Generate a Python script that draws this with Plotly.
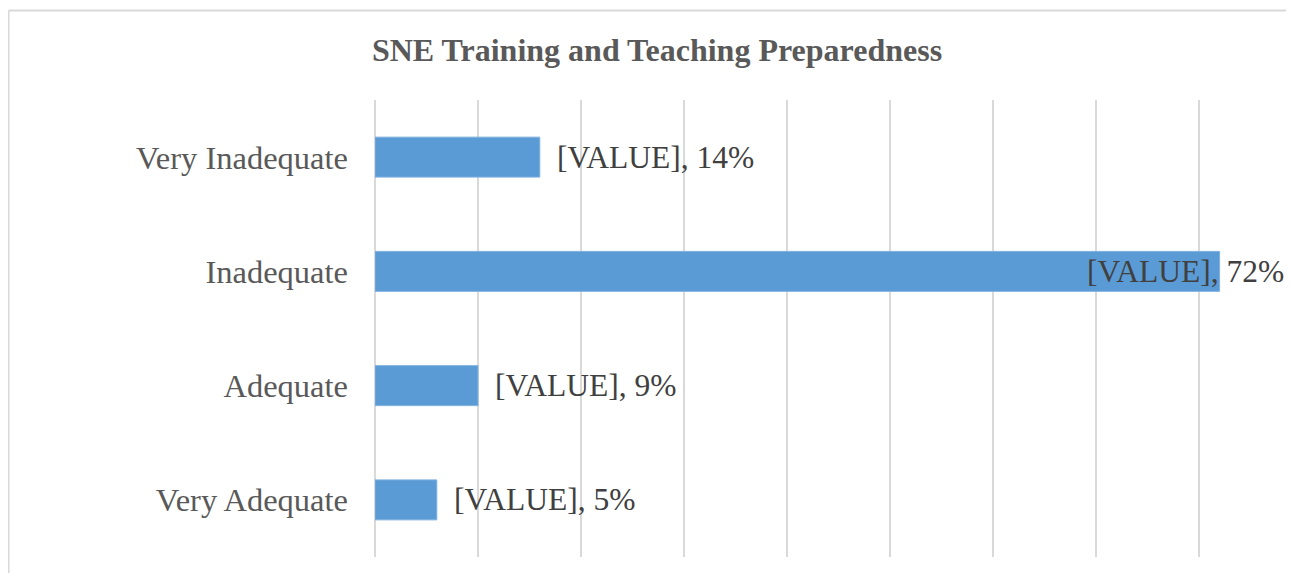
import plotly.graph_objects as go

categories = ["Very Adequate", "Adequate", "Inadequate", "Very Inadequate"]
counts = [3, 5, 41, 8]
percents = [5, 9, 72, 14]
label_prefix = "[VALUE]"
title_text = "SNE Training and Teaching Preparedness"

# page has an 8px body margin; size figure so it fits the visible window
W, H = 1278, 565
L, R, T, B = 367, 0, 92, 16
PW, PH = W - L - R, H - T - B
xmax = PW / 20.6  # keeps 5-unit gridlines ~103px apart

fig = go.Figure()
fig.add_trace(go.Bar(
    y=categories, x=counts, orientation="h",
    marker=dict(color="#5b9bd5", line=dict(color="#7eb0e0", width=1)),
    hoverinfo="skip", showlegend=False,
))

label_font = dict(family="Liberation Serif", size=31.5, color="#404040")
annotations = []
for cat, c, p in zip(categories, counts, percents):
    txt = f"{label_prefix}, {p}%"
    fits = (c / xmax) * PW + 17 + 205 < PW
    if fits:
        annotations.append(dict(x=c, y=cat, xref="x", yref="y", text=txt,
                                showarrow=False, xanchor="left", xshift=15,
                                font=label_font))
    else:
        annotations.append(dict(x=1, y=cat, xref="paper", yref="y", text=txt,
                                showarrow=False, xanchor="right", xshift=0,
                                font=label_font))

bx = -(L - 0.5) / PW
by = 1 + (T - 2.5) / PH
fig.update_layout(
    width=W, height=H,
    margin=dict(l=L, r=R, t=T, b=B),
    paper_bgcolor="white", plot_bgcolor="white",
    bargap=0.65,
    title=dict(text=f"<b>{title_text}</b>", x=649 / W, xanchor="center",
               y=1 - 42 / H, yanchor="middle", yref="container",
               font=dict(family="Liberation Serif", size=32, color="#595959")),
    xaxis=dict(range=[0, xmax], dtick=5, tick0=0, showticklabels=False,
               showgrid=True, gridcolor="#d9d9d9", gridwidth=2,
               zeroline=True, zerolinecolor="#d9d9d9", zerolinewidth=2,
               showline=False, fixedrange=True),
    yaxis=dict(showgrid=False, zeroline=False, showline=False, ticks="",
               ticklabelstandoff=26,
               tickfont=dict(family="Liberation Serif", size=32.5, color="#595959")),
    annotations=annotations,
    shapes=[
        dict(type="line", xref="paper", yref="paper", x0=bx, x1=1.0, y0=by, y1=by,
             line=dict(color="#d9d9d9", width=2)),
        dict(type="line", xref="paper", yref="paper", x0=bx, x1=bx,
             y0=-B / PH - 0.01, y1=by, line=dict(color="#d9d9d9", width=2)),
    ],
)

fig.write_html("out.html")
